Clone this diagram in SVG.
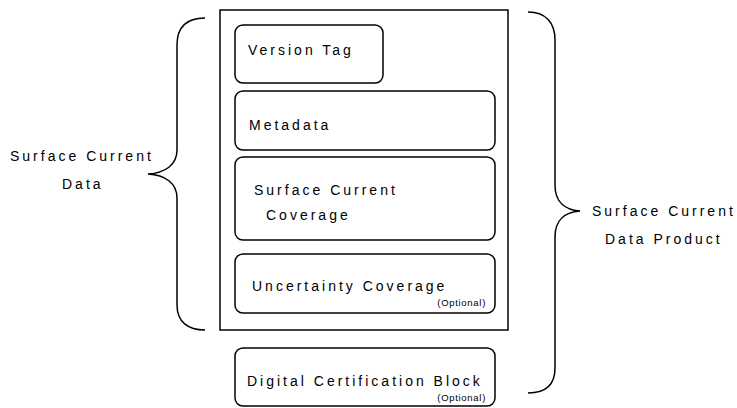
<svg xmlns="http://www.w3.org/2000/svg" width="737" height="408" viewBox="0 0 737 408">
<style>
.box{fill:#fff;stroke:#000;stroke-width:1.5}
.br{fill:none;stroke:#000;stroke-width:1.5}
text{font-family:"Liberation Sans",Arial,sans-serif;font-size:14px;letter-spacing:3px;fill:#000}
.opt{font-size:9.5px;letter-spacing:0.7px}
</style>
<rect width="737" height="408" fill="#fff"/>
<g id="connectors">
<path class="br" d="M205,18 C188,18 177,26 177,45 L177,150 C177,165 165,173 148,174 C165,175 177,183 177,198 L177,305 C177,322 188,330 205,330"/>
<path class="br" d="M528,12 C545,12 555,22 555,40 L555,185 C555,202 565,210 580,211 C565,212 555,220 555,237 L555,368 C555,385 545,393 528,393"/>
</g>
<g id="outer"><rect class="box" x="220" y="10" width="288" height="320"/></g>
<g id="version"><rect class="box" x="235" y="25" width="148" height="58" rx="8"/><text x="248" y="55">Version Tag</text></g>
<g id="metadata"><rect class="box" x="235" y="91" width="260" height="59" rx="8"/><text x="249" y="130">Metadata</text></g>
<g id="coverage"><rect class="box" x="235" y="157" width="260" height="83" rx="8"/><text x="254" y="195">Surface Current</text><text x="266" y="220">Coverage</text></g>
<g id="uncertainty"><rect class="box" x="235" y="254" width="260" height="59" rx="8"/><text x="252" y="291">Uncertainty Coverage</text><text class="opt" x="486" y="306" text-anchor="end">(Optional)</text></g>
<g id="cert"><rect class="box" x="235" y="348" width="260" height="58" rx="8"/><text x="247" y="386">Digital Certification Block</text><text class="opt" x="486" y="401" text-anchor="end">(Optional)</text></g>
<g id="label-left"><text x="10" y="161">Surface Current</text><text x="62" y="189">Data</text></g>
<g id="label-right"><text x="592" y="216">Surface Current</text><text x="605" y="244">Data Product</text></g>
</svg>
